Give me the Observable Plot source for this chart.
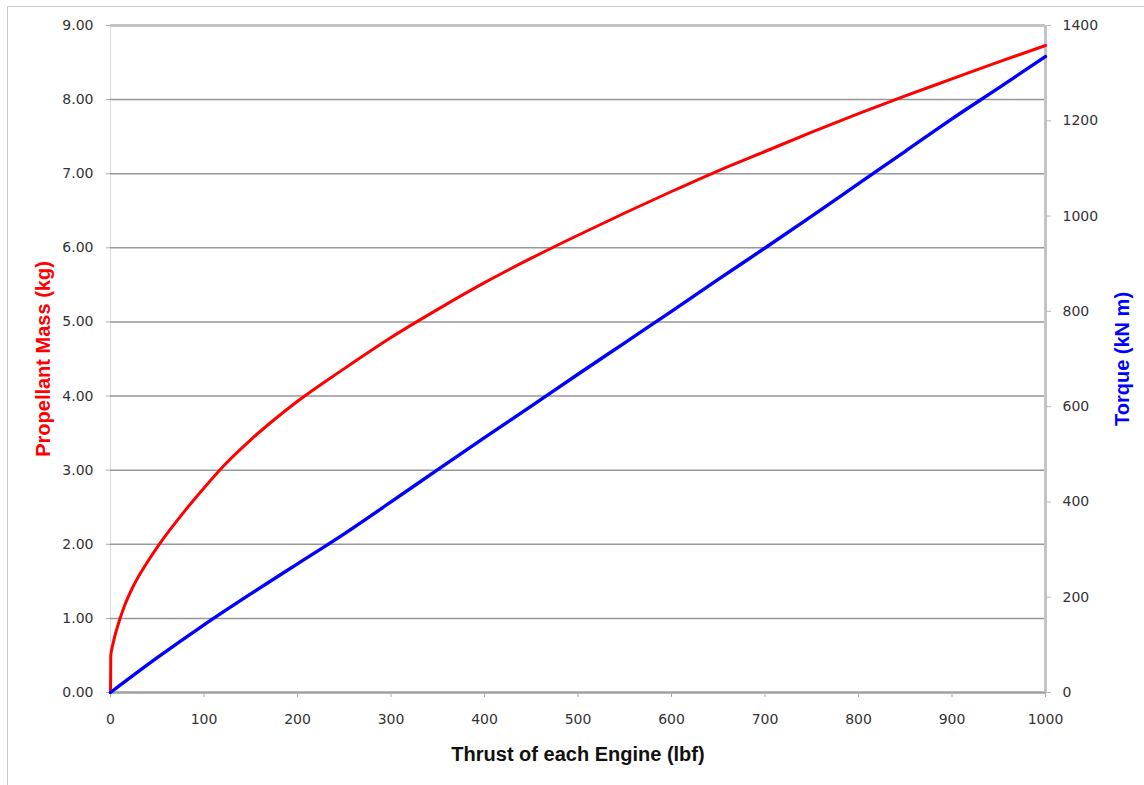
<!DOCTYPE html>
<html>
<head>
<meta charset="utf-8">
<script src="https://cdn.jsdelivr.net/npm/d3@7"></script>
<script src="https://cdn.jsdelivr.net/npm/@observablehq/plot@0.6"></script>
<style>
  html, body { margin: 0; padding: 0; background: #fff; }
  #wrap { position: relative; width: 1144px; height: 785px; overflow: hidden; }
  #border { position: absolute; left: 7px; top: 6px; right: -10px; bottom: -10px;
            border-top: 1.5px solid #c9c9c9; border-left: 1.5px solid #c9c9c9; pointer-events: none; }
  #wrap svg { position: absolute; left: 0; top: 0; }
</style>
</head>
<body>
<div id="wrap"><div id="border"></div></div>
<script>
// Propellant mass (kg) vs thrust (lbf) — red series, left axis
const massThrust = [0, 0.3, 2, 5, 10, 15, 25, 40, 55, 75, 100, 125, 150, 175, 200, 250, 300, 350, 400, 450, 500, 550, 600, 650, 700, 750, 800, 850, 900, 950, 1000];
const massValue  = [0, 0.5, 0.62, 0.78, 0.99, 1.17, 1.45, 1.77, 2.05, 2.38, 2.76, 3.11, 3.41, 3.68, 3.93, 4.37, 4.79, 5.17, 5.53, 5.86, 6.17, 6.47, 6.76, 7.04, 7.3, 7.56, 7.81, 8.05, 8.28, 8.51, 8.73];

// Torque (kN m) vs thrust (lbf) — blue series, right axis
const torqueThrust = [0, 50, 100, 150, 200, 250, 300, 350, 400, 450, 500, 550, 600, 650, 700, 750, 800, 850, 900, 950, 1000];
const torqueValue  = [0, 73, 142, 207, 270, 333, 400, 468, 535, 601, 668, 734, 800, 867, 933, 1000, 1068, 1136, 1204, 1269, 1335];

const xTicks = [0, 100, 200, 300, 400, 500, 600, 700, 800, 900, 1000];
const massTicks = [0, 1, 2, 3, 4, 5, 6, 7, 8, 9];
const torqueTicks = [0, 200, 400, 600, 800, 1000, 1200, 1400];

const massMax = 9, torqueMax = 1400;
const toMass = t => t * massMax / torqueMax;

const massData = massThrust.map((x, i) => ({x, v: massValue[i]}));
const torqueData = torqueThrust.map((x, i) => ({x, t: torqueValue[i]}));

const tickFont = "DejaVu Sans, Verdana, sans-serif";
const titleFont = "Liberation Sans, Arial, sans-serif";

const chart = Plot.plot({
  width: 1144,
  height: 785,
  marginLeft: 110,
  marginRight: 99,
  marginTop: 25,
  marginBottom: 93,
  style: {background: "transparent", fontFamily: tickFont},
  x: {domain: [0, 1000], axis: null},
  y: {domain: [0, massMax], axis: null},
  marks: [
    Plot.ruleX([0], {stroke: "#dddddd", strokeWidth: 1}),
    Plot.ruleY(massTicks.filter(d => d > 0 && d < 9), {stroke: "#979797", strokeWidth: 1.5}),
    Plot.ruleY([9], {stroke: "#c4c4c4", strokeWidth: 3}),
    Plot.ruleY([0], {stroke: "#a0a0a0", strokeWidth: 2.5}),
    Plot.ruleX([1000], {stroke: "#c4c4c4", strokeWidth: 3, y1: 0, y2: massMax}),
    Plot.axisX(xTicks, {anchor: "bottom", tickSize: 5, tickPadding: 17, fontSize: 14, color: "#333", stroke: "#aaa",
      tickFormat: d => String(d), label: null}),
    Plot.axisY(massTicks, {anchor: "left", tickSize: 4, tickPadding: 13, fontSize: 14, color: "#333", stroke: "#aaa",
      tickFormat: d => d.toFixed(2), label: null}),
    Plot.axisY(torqueTicks.map(toMass), {anchor: "right", tickSize: 5, tickPadding: 12, fontSize: 14, color: "#333", stroke: "#bbb",
      tickFormat: d => String(Math.round(d * torqueMax / massMax)), label: null}),
    Plot.line(massData, {x: "x", y: "v", stroke: "#ff0000", strokeWidth: 3, curve: "monotone-x"}),
    Plot.line(torqueData, {x: "x", y: d => toMass(d.t), stroke: "#0000ff", strokeWidth: 3.4, curve: "monotone-x"}),
    Plot.text(["Propellant Mass (kg)"], {frameAnchor: "left", dx: -67, rotate: -90, fill: "#ff0000",
      fontSize: 20, fontWeight: "bold", fontFamily: titleFont, textAnchor: "middle", lineAnchor: "middle"}),
    Plot.text(["Torque (kN m)"], {frameAnchor: "right", dx: 77, rotate: -90, fill: "#0000ff",
      fontSize: 20, fontWeight: "bold", fontFamily: titleFont, textAnchor: "middle", lineAnchor: "middle"}),
    Plot.text(["Thrust of each Engine (lbf)"], {frameAnchor: "bottom", dy: 62, fill: "#111",
      fontSize: 20, fontWeight: "bold", fontFamily: titleFont, textAnchor: "middle", lineAnchor: "middle"})
  ]
});
document.getElementById("wrap").appendChild(chart);
</script>
</body>
</html>
